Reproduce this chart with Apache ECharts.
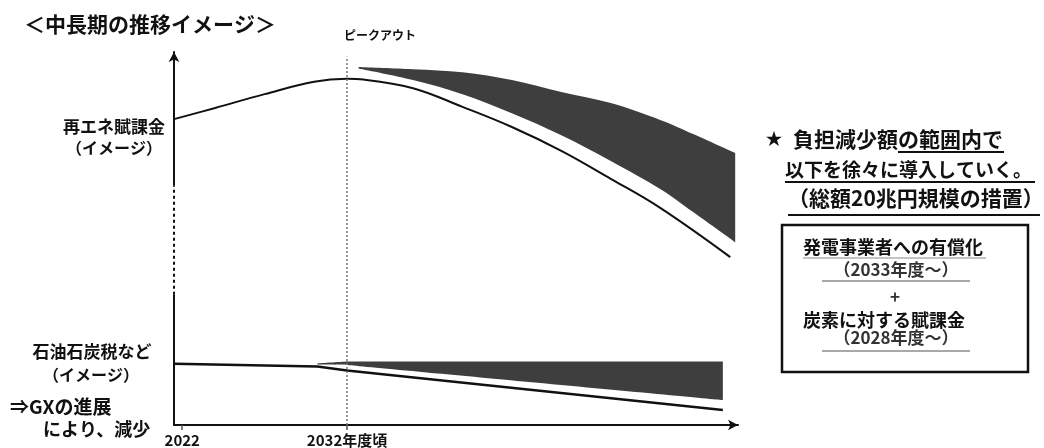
<!DOCTYPE html>
<html>
<head>
<meta charset="utf-8">
<script src="https://cdn.jsdelivr.net/npm/echarts@6/dist/echarts.min.js"></script>
<style>
  html, body { margin: 0; padding: 0; background: #fff; }
  #chart { width: 1044px; height: 448px; }
</style>
</head>
<body>
<div id="chart"></div>
<script>
// x range (years) and y range (index, arbitrary units)
const xMin = 2021.5;
const xMax = 2055.72;
const yMax = 100;

// renewable energy surcharge curve
const surchargeYears = [2021.5, 2024, 2027, 2030, 2032, 2033, 2036, 2039, 2042, 2045, 2048, 2051, 2055.25];
const surchargeValues = [82.0, 85.0, 88.7, 92.0, 92.8, 92.6, 90.3, 85.3, 79.9, 73.5, 66.0, 58.2, 45.0];

// dark band above the surcharge curve
const upperBandYears = [2032.7, 2036, 2039, 2042, 2045, 2048, 2051, 2053, 2055.55];
const upperBandLow = [95.6, 92.5, 88.7, 83.6, 77.7, 70.8, 63.3, 57.1, 49.0];
const upperBandHigh = [96.0, 95.4, 94.6, 92.5, 89.3, 86.3, 81.8, 78.0, 72.9];

// oil & coal tax line
const taxYears = [2021.5, 2030.2, 2032, 2054.8];
const taxValues = [16.4, 15.7, 14.6, 4.0];

// dark band above the tax line
const lowerBandYears = [2030.2, 2032, 2054.8];
const lowerBandLow = [16.2, 16.1, 6.7];
const lowerBandHigh = [16.5, 17.0, 17.0];

// x ticks
const xTickValues = [2022, 2032];
const xTickLabels = ['2022', '2032年度頃'];

// broken (dashed) part of the y axis, and the peak-out marker
const axisBreak = [34.9, 64.3];
const peakYear = 2032;
const peakLineTop = 98.7;

const FONT = '"Noto Sans CJK JP", "Noto Sans", sans-serif';
const BAND_COLOR = '#3e3e3e';

const zip = (xs, ys) => xs.map((x, i) => [x, ys[i]]);

const chart = echarts.init(document.getElementById('chart'));

// smooth edge through pixel points (catmull-rom as cubic bezier), appended to a path string
function smoothEdge(pts, smooth) {
    let d = '';
    for (let i = 0; i < pts.length - 1; i++) {
        const p0 = pts[Math.max(i - 1, 0)];
        const p1 = pts[i];
        const p2 = pts[i + 1];
        const p3 = pts[Math.min(i + 2, pts.length - 1)];
        const c1 = [p1[0] + (p2[0] - p0[0]) * smooth / 6, p1[1] + (p2[1] - p0[1]) * smooth / 6];
        const c2 = [p2[0] - (p3[0] - p1[0]) * smooth / 6, p2[1] - (p3[1] - p1[1]) * smooth / 6];
        d += ' C' + c1.join(' ') + ' ' + c2.join(' ') + ' ' + p2.join(' ');
    }
    return d;
}

// band between two edges: upper edge left->right, lower edge right->left
function bandSeries(name, years, low, high, smooth) {
    return {
        name: name,
        type: 'custom',
        coordinateSystem: 'cartesian2d',
        clip: false,
        z: 1,
        data: [[years[0], high[0]]],
        renderItem: function (params, api) {
            const top = years.map((x, i) => api.coord([x, high[i]]));
            const bottom = years.map((x, i) => api.coord([x, low[i]])).reverse();
            const d = 'M' + top[0].join(' ') + smoothEdge(top, smooth) +
                ' L' + bottom[0].join(' ') + smoothEdge(bottom, smooth) + ' Z';
            return {
                type: 'path',
                shape: { pathData: d },
                style: { fill: BAND_COLOR }
            };
        }
    };
}

function txt(text, x, y, size, opts) {
    return Object.assign({
        type: 'text',
        x: x,
        y: y,
        z: 10,
        style: {
            text: text,
            font: 'bold ' + size + 'px ' + FONT,
            fill: '#111',
            align: 'left',
            verticalAlign: 'middle'
        }
    }, opts || {});
}
function centered(text, x, y, size, fill) {
    const t = txt(text, x, y, size);
    t.style.align = 'center';
    if (fill) t.style.fill = fill;
    return t;
}
function uline(x1, x2, y, w, color) {
    return {
        type: 'line',
        z: 10,
        shape: { x1: x1, y1: y, x2: x2, y2: y },
        style: { stroke: color || '#111', lineWidth: w || 1.5 }
    };
}

chart.setOption({
    animation: false,
    backgroundColor: '#fff',
    textStyle: { fontFamily: FONT },
    grid: { left: 174, right: 306, top: 52, bottom: 23, containLabel: false, outerBoundsMode: 'none' },
    xAxis: {
        type: 'value',
        min: xMin,
        max: xMax,
        splitLine: { show: false },
        axisLine: {
            lineStyle: { color: '#111', width: 2 },
            symbol: ['none', 'arrow'],
            symbolSize: [8, 10]
        },
        axisTick: {
            show: true,
            customValues: xTickValues,
            length: 5,
            lineStyle: { color: '#555', width: 1.5 }
        },
        axisLabel: {
            customValues: xTickValues,
            margin: 8,
            color: '#111',
            fontSize: 15,
            fontWeight: 'bold',
            fontFamily: FONT,
            formatter: (v) => xTickLabels[xTickValues.indexOf(v)] || ''
        }
    },
    yAxis: {
        type: 'value',
        min: 0,
        max: yMax,
        splitLine: { show: false },
        axisTick: { show: false },
        axisLabel: { show: false },
        axisLine: {
            show: true,
            lineStyle: { color: '#111', width: 2 },
            symbol: ['none', 'arrow'],
            symbolSize: [8, 10]
        }
    },
    series: [
        bandSeries('upperBand', upperBandYears, upperBandLow, upperBandHigh, 1),
        bandSeries('lowerBand', lowerBandYears, lowerBandLow, lowerBandHigh, 0),
        {
            name: '再エネ賦課金',
            type: 'line',
            symbol: 'none',
            smooth: 0.4,
            z: 4,
            lineStyle: { color: '#111', width: 2 },
            data: zip(surchargeYears, surchargeValues),
            markLine: {
                silent: true,
                symbol: 'none',
                label: { show: false },
                lineStyle: { color: '#777', width: 1.5, type: [2, 2] },
                data: [[{ coord: [peakYear, 0] }, { coord: [peakYear, peakLineTop] }]]
            }
        },
        {
            name: '石油石炭税など',
            type: 'line',
            symbol: 'none',
            z: 4,
            lineStyle: { color: '#111', width: 2.5 },
            data: zip(taxYears, taxValues)
        },
        {
            // white gap over the y axis where it turns dashed
            name: 'axisGap',
            type: 'line',
            symbol: 'none',
            clip: false,
            z: 5,
            lineStyle: { color: '#fff', width: 4 },
            data: [[xMin, axisBreak[0]], [xMin, axisBreak[1]]]
        },
        {
            name: 'axisDash',
            type: 'line',
            symbol: 'none',
            clip: false,
            z: 6,
            lineStyle: { color: '#111', width: 2, type: [3, 3] },
            data: [[xMin, axisBreak[0]], [xMin, axisBreak[1]]]
        }
    ],
    graphic: [
        txt('＜中長期の推移イメージ＞', 24, 24, 21),
        centered('ピークアウト', 380, 35, 12),

        centered('再エネ賦課金', 114, 127, 17),
        centered('（イメージ）', 114, 148, 16),
        centered('石油石炭税など', 92, 352, 17),
        centered('（イメージ）', 91, 375, 16),
        txt('⇒GXの進展', 10, 407, 19),
        txt('により、減少', 43, 429, 18),

        centered('★', 774, 139, 17),
        txt('負担減少額の範囲内で', 793, 139, 21),
        uline(898, 1004, 152, 2),
        txt('以下を徐々に導入していく。', 785, 170, 19),
        uline(785, 1035, 182, 2),
        txt('（総額20兆円規模の措置）', 788, 198, 21),
        uline(788, 1040, 215, 2),

        {
            type: 'rect',
            z: 10,
            shape: { x: 782, y: 225, width: 246, height: 147 },
            style: { fill: 'none', stroke: '#111', lineWidth: 2.5 }
        },
        txt('発電事業者への有償化', 803, 247, 18, null),
        uline(803, 986, 258, 1, '#888'),
        centered('（2033年度～）', 896, 270, 17, '#333'),
        uline(822, 970, 281, 1.2, '#555'),
        centered('+', 895, 297, 17, '#333'),
        txt('炭素に対する賦課金', 803, 320, 18, null),
        centered('（2028年度～）', 896, 338, 17, '#333'),
        uline(822, 970, 351, 1.2, '#555')
    ]
});
</script>
</body>
</html>
